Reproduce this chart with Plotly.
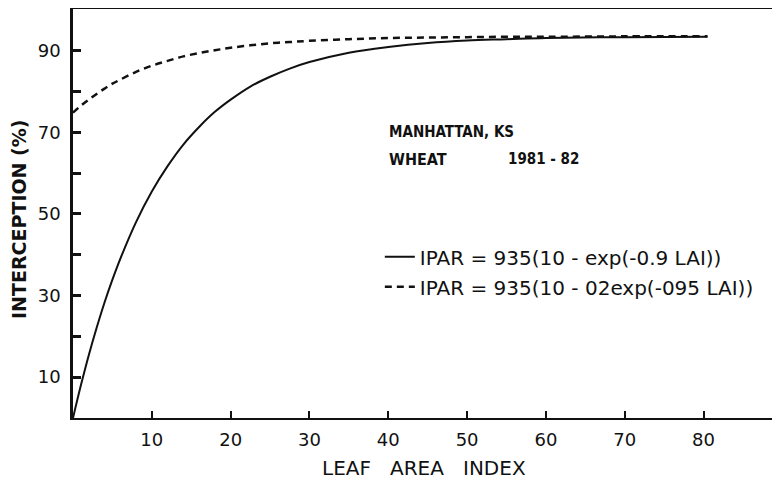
import plotly.graph_objects as go

# Leaf area index sample points
lai = [0, 0.1, 0.2, 0.3, 0.4, 0.5, 0.6, 0.8, 1.0, 1.2, 1.4, 1.6, 1.8, 2.0,
       2.25, 2.5, 2.75, 3.0, 3.5, 4.0, 4.5, 5.0, 5.5, 6.0, 7.0, 8.05]

# Solid curve: IPAR = 93.5(1.0 - exp(-0.9 LAI))
ipar_solid = [0, 8.0, 15.4, 22.1, 28.3, 33.9, 39.0, 48.0, 55.5, 61.7, 67.0, 71.3,
              75.0, 78.0, 81.2, 83.6, 85.6, 87.2, 89.5, 90.9, 91.9, 92.5, 92.8,
              93.1, 93.3, 93.4]

# Dashed curve: IPAR = 93.5(1.0 - 0.2 exp(-0.95 LAI))
ipar_dashed = [74.8, 76.5, 78.0, 79.4, 80.7, 81.9, 82.9, 84.8, 86.3, 87.5, 88.6,
               89.4, 90.1, 90.7, 91.3, 91.8, 92.1, 92.4, 92.8, 93.1, 93.2, 93.3,
               93.4, 93.4, 93.5, 93.5]

x_tickvals = [1, 2, 3, 4, 5, 6, 7, 8]
x_ticktext = ["10", "20", "30", "40", "50", "60", "70", "80"]
y_tickvals = [10, 20, 30, 40, 50, 60, 70, 80, 90]
y_ticktext = ["10", "", "30", "", "50", "", "70", "", "90"]

name_solid = "IPAR = 935(10 - exp(-0.9 LAI))"
name_dashed = "IPAR = 935(10 - 02exp(-095 LAI))"

FONT = "DejaVu Sans"
NARROW = "DejaVu Sans Condensed, DejaVu Sans"
INK = "#111111"

fig = go.Figure()
fig.add_trace(go.Scatter(x=lai, y=ipar_solid, mode="lines", name=name_solid,
                         legendgroup="a",
                         line=dict(color=INK, width=2, shape="spline")))
fig.add_trace(go.Scatter(x=lai, y=ipar_dashed, mode="lines", name=name_dashed,
                         legendgroup="b",
                         line=dict(color=INK, width=2.5, dash="7px,5px", shape="spline")))

# the page has an 8px body margin, so the figure is 8px smaller than the window
fig.update_layout(
    width=772, height=473,
    margin=dict(l=65, r=0, t=1, b=63),
    paper_bgcolor="white", plot_bgcolor="white",
    font=dict(family=FONT, color=INK, size=16),
    showlegend=True,
    legend=dict(x=0.434, y=0.442, xanchor="left", yanchor="top",
                bgcolor="rgba(0,0,0,0)", borderwidth=0,
                font=dict(family=FONT, size=20, color=INK),
                itemwidth=30, traceorder="grouped", tracegroupgap=1),
)

fig.update_xaxes(range=[0, 8.97], showgrid=False, zeroline=False,
                 showline=True, linecolor=INK, linewidth=2, mirror=True,
                 ticks="inside", ticklen=7, tickwidth=2, tickcolor=INK,
                 tickvals=x_tickvals, ticktext=x_ticktext,
                 tickfont=dict(family=FONT, size=18, color=INK),
                 ticklabelstandoff=4)
fig.update_yaxes(range=[0, 100.2], showgrid=False, zeroline=False,
                 showline=True, linecolor=INK, linewidth=2.5,
                 ticks="inside", ticklen=8, tickwidth=2.5, tickcolor=INK,
                 tickvals=y_tickvals, ticktext=y_ticktext,
                 tickfont=dict(family=FONT, size=18, color=INK),
                 ticklabelstandoff=6)

# Axis titles
fig.add_annotation(text="LEAF   AREA   INDEX", xref="paper", yref="paper",
                   x=0.4965, y=-0.122, xanchor="center", yanchor="middle",
                   showarrow=False, font=dict(family=FONT, size=20, color=INK))
fig.add_annotation(text="<b>INTERCEPTION (%)</b>", xref="paper", yref="paper",
                   x=-0.0764, y=0.4866, xanchor="center", yanchor="middle",
                   textangle=-90, showarrow=False,
                   font=dict(family=FONT, size=19, color=INK))

# Site annotation
fig.add_annotation(text="<b>MANHATTAN, KS</b>", xref="paper", yref="paper",
                   x=0.444, y=0.700, xanchor="left", yanchor="middle",
                   showarrow=False, font=dict(family=NARROW, size=15, color=INK))
fig.add_annotation(text="<b>WHEAT</b>", xref="paper", yref="paper",
                   x=0.444, y=0.633, xanchor="left", yanchor="middle",
                   showarrow=False, font=dict(family=NARROW, size=16, color=INK))
fig.add_annotation(text="<b>1981 - 82</b>", xref="paper", yref="paper",
                   x=0.613, y=0.633, xanchor="left", yanchor="middle",
                   showarrow=False, font=dict(family=NARROW, size=15, color=INK))

fig.write_html("out.html")
